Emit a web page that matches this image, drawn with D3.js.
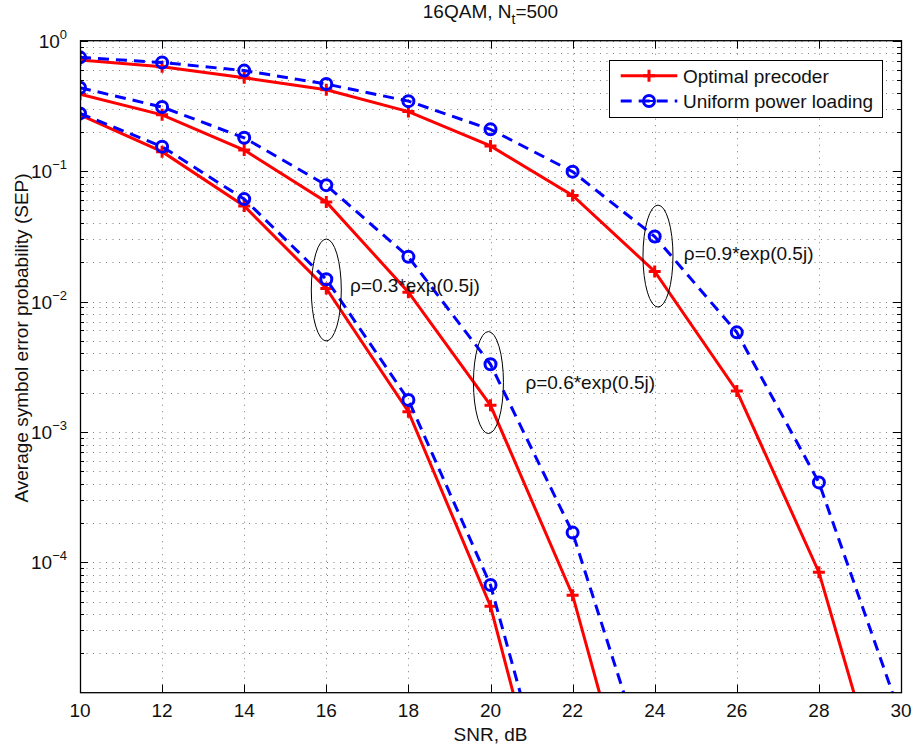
<!DOCTYPE html>
<html>
<head>
<meta charset="utf-8">
<script src="https://cdn.jsdelivr.net/npm/d3@7"></script>
<style>
  body { margin: 0; background: #fff; }
  svg { font-family: "Liberation Sans", Arial, Helvetica, sans-serif; }
</style>
</head>
<body>
<svg id="chart" width="914" height="746"></svg>
<script>
// SNR points (dB)
const snr = [10, 12, 14, 16, 18, 20, 22, 24, 26, 28, 30];

// SEP values (null = not plotted / far below axis)
const optRho03 = [0.27, 0.141, 0.054, 0.0126, 0.00143, 4.6e-5, 1.8e-7, null, null, null, null];
const uniRho03 = [0.277, 0.154, 0.061, 0.0148, 0.00176, 6.7e-5, 3.5e-7, null, null, null, null];
const optRho06 = [0.388, 0.27, 0.145, 0.058, 0.0118, 0.0016, 5.6e-5, 2.9e-7, null, null, null];
const uniRho06 = [0.436, 0.31, 0.18, 0.078, 0.022, 0.0033, 1.69e-4, 1.8e-6, null, null, null];
const optRho09 = [0.71, 0.63, 0.52, 0.42, 0.286, 0.156, 0.065, 0.017, 0.00206, 8.4e-5, 5.7e-7];
const uniRho09 = [0.745, 0.68, 0.59, 0.465, 0.344, 0.209, 0.099, 0.0315, 0.0058, 4.1e-4, 6.5e-6];

const xTicks = [10, 12, 14, 16, 18, 20, 22, 24, 26, 28, 30];
const yLabelExps = [0, -1, -2, -3, -4];

// ellipse annotations (centre in data units) + label
const annotations = [
  { cx: 16, cy: 0.01225, tx: 16.58, ty: 0.0119, label: "ρ=0.3*exp(0.5j)" },
  { cx: 19.95, cy: 0.00239, tx: 20.85, ty: 0.00213, label: "ρ=0.6*exp(0.5j)" },
  { cx: 24.08, cy: 0.0223, tx: 24.71, ty: 0.0208, label: "ρ=0.9*exp(0.5j)" }
];

const pLeft = 80, pRight = 901, pTop = 40.7, pBottom = 692.7;
const svg = d3.select("#chart");

const x = d3.scaleLinear().domain([10, 30]).range([pLeft, pRight]);
const y = d3.scaleLog().domain([1e-5, 1]).range([pBottom, pTop]);

svg.append("defs").append("clipPath").attr("id", "clip")
  .append("rect").attr("x", pLeft).attr("y", pTop)
  .attr("width", pRight - pLeft).attr("height", pBottom - pTop);

// grid
const grid = svg.append("g")
  .attr("stroke", "#000").attr("stroke-opacity", 0.5)
  .attr("stroke-width", 1).attr("stroke-dasharray", "1,5.5");

const minorVals = [];
for (let e = -5; e < 0; e++) {
  for (let m = 2; m <= 9; m++) minorVals.push(m * Math.pow(10, e));
}
const majorVals = yLabelExps.map(e => Math.pow(10, e));

grid.selectAll(".hg").data(majorVals.concat(minorVals)).join("line")
  .attr("x1", pLeft).attr("x2", pRight)
  .attr("y1", d => Math.round(y(d)) + 0.5).attr("y2", d => Math.round(y(d)) + 0.5);
grid.selectAll(".vg").data(xTicks.slice(1, -1)).join("line")
  .attr("y1", pTop).attr("y2", pBottom)
  .attr("x1", d => Math.round(x(d)) + 0.5).attr("x2", d => Math.round(x(d)) + 0.5);

// ticks (inward, all four sides)
const ticks = svg.append("g").attr("stroke", "#000").attr("stroke-width", 1);
xTicks.forEach(t => {
  const px = Math.round(x(t)) + 0.5;
  ticks.append("line").attr("x1", px).attr("x2", px).attr("y1", pBottom).attr("y2", pBottom - 8);
  ticks.append("line").attr("x1", px).attr("x2", px).attr("y1", pTop).attr("y2", pTop + 8);
});
majorVals.forEach(v => {
  const py = Math.round(y(v)) + 0.5;
  ticks.append("line").attr("x1", pLeft).attr("x2", pLeft + 8).attr("y1", py).attr("y2", py);
  ticks.append("line").attr("x1", pRight).attr("x2", pRight - 8).attr("y1", py).attr("y2", py);
});
minorVals.forEach(v => {
  const py = Math.round(y(v)) + 0.5;
  ticks.append("line").attr("x1", pLeft).attr("x2", pLeft + 4).attr("y1", py).attr("y2", py);
  ticks.append("line").attr("x1", pRight).attr("x2", pRight - 4).attr("y1", py).attr("y2", py);
});

// tick labels
svg.append("g").selectAll("text").data(xTicks).join("text")
  .attr("x", d => x(d)).attr("y", 717)
  .attr("text-anchor", "middle").attr("font-size", 19).attr("fill", "#111")
  .text(d => d);

const yl = svg.append("g").selectAll("text").data(yLabelExps).join("text")
  .attr("x", 67).attr("y", d => y(Math.pow(10, d)) + 7)
  .attr("text-anchor", "end").attr("font-size", 19).attr("fill", "#111");
yl.append("tspan").text("10");
yl.append("tspan").attr("dy", -9).attr("font-size", 13)
  .text(d => d === 0 ? "0" : "\u2212" + Math.abs(d));

// curves
const line = d3.line()
  .defined(d => d.v != null)
  .x(d => x(d.s)).y(d => y(d.v));

const series = [
  { vals: optRho03, kind: "opt" }, { vals: optRho06, kind: "opt" }, { vals: optRho09, kind: "opt" },
  { vals: uniRho03, kind: "uni" }, { vals: uniRho06, kind: "uni" }, { vals: uniRho09, kind: "uni" }
];

const plot = svg.append("g").attr("clip-path", "url(#clip)");

series.forEach(s => {
  const pts = snr.map((v, i) => ({ s: v, v: s.vals[i] }));
  const color = s.kind === "opt" ? "#ff0000" : "#0000ff";
  plot.append("path").datum(pts)
    .attr("d", line).attr("fill", "none")
    .attr("stroke", color).attr("stroke-width", 3)
    .attr("stroke-dasharray", s.kind === "uni" ? "11,7" : null);

  const shown = pts.filter(p => p.v != null && p.v >= 1e-5);
  if (s.kind === "opt") {
    plot.selectAll(null).data(shown).join("path")
      .attr("d", p => `M${x(p.s) - 6},${y(p.v)}h12M${x(p.s)},${y(p.v) - 6}v12`)
      .attr("stroke", color).attr("stroke-width", 3).attr("fill", "none");
  } else {
    plot.selectAll(null).data(shown).join("circle")
      .attr("cx", p => x(p.s)).attr("cy", p => y(p.v)).attr("r", 5.5)
      .attr("stroke", color).attr("stroke-width", 3).attr("fill", "none");
  }
});

// annotations
annotations.forEach(a => {
  svg.append("ellipse")
    .attr("cx", x(a.cx)).attr("cy", y(a.cy)).attr("rx", 15).attr("ry", 51)
    .attr("fill", "none").attr("stroke", "#000").attr("stroke-width", 1);
  svg.append("text")
    .attr("x", x(a.tx)).attr("y", y(a.ty))
    .attr("font-size", 19).attr("fill", "#111").text(a.label);
});

// axes box
svg.append("rect").attr("x", pLeft + 0.5).attr("y", pTop)
  .attr("width", pRight - pLeft).attr("height", pBottom - pTop)
  .attr("fill", "none").attr("stroke", "#000").attr("stroke-width", 1.3);

// legend
const lg = svg.append("g");
lg.append("rect").attr("x", 609.5).attr("y", 60.5).attr("width", 273).attr("height", 57)
  .attr("fill", "#fff").attr("stroke", "#000").attr("stroke-width", 1);
const legendItems = [
  { label: "Optimal precoder", kind: "opt", yy: 75.7 },
  { label: "Uniform power loading", kind: "uni", yy: 101 }
];
legendItems.forEach(it => {
  const color = it.kind === "opt" ? "#ff0000" : "#0000ff";
  lg.append("line").attr("x1", 620.7).attr("x2", 677.3).attr("y1", it.yy).attr("y2", it.yy)
    .attr("stroke", color).attr("stroke-width", 3)
    .attr("stroke-dasharray", it.kind === "uni" ? "11,7" : null);
  if (it.kind === "opt") {
    lg.append("path").attr("d", `M643,${it.yy}h12M649,${it.yy - 6}v12`)
      .attr("stroke", color).attr("stroke-width", 3);
  } else {
    lg.append("line").attr("x1", 644).attr("x2", 654).attr("y1", it.yy).attr("y2", it.yy)
      .attr("stroke", color).attr("stroke-width", 2);
    lg.append("circle").attr("cx", 649).attr("cy", it.yy).attr("r", 5.5)
      .attr("fill", "none").attr("stroke", color).attr("stroke-width", 3);
  }
  lg.append("text").attr("x", 683).attr("y", it.yy + 7)
    .attr("font-size", 19).attr("fill", "#111").text(it.label);
});

// title and axis labels
const title = svg.append("text").attr("x", (pLeft + pRight) / 2).attr("y", 18)
  .attr("text-anchor", "middle").attr("font-size", 19).attr("fill", "#111");
title.append("tspan").text("16QAM, N");
title.append("tspan").attr("dy", 6).attr("font-size", 14).text("t");
title.append("tspan").attr("dy", -6).text("=500");

svg.append("text").attr("x", (pLeft + pRight) / 2).attr("y", 741)
  .attr("text-anchor", "middle").attr("font-size", 19).attr("fill", "#111")
  .text("SNR, dB");

svg.append("text").attr("transform", "translate(28,338) rotate(-90)")
  .attr("text-anchor", "middle").attr("font-size", 19).attr("fill", "#111")
  .text("Average symbol error probability (SEP)");
</script>
</body>
</html>
